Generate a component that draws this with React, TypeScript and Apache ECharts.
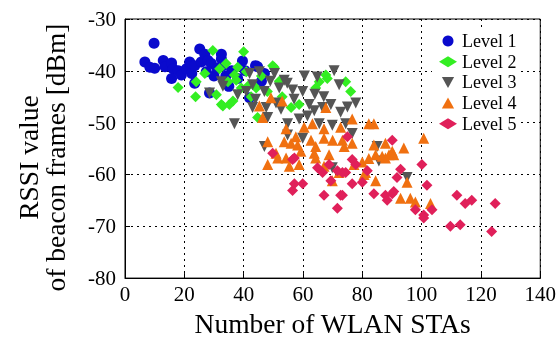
import React, { useEffect, useRef } from "react";
import * as echarts from "echarts";

const xTicks = [0, 20, 40, 60, 80, 100, 120, 140];
const yTicks = [-80, -70, -60, -50, -40, -30];
const levelNames = ["Level 1", "Level 2", "Level 3", "Level 4", "Level 5"];

const level1: number[][] = [
  [6.7, -38.3], [8.4, -39.3], [10, -39.5], [9.8, -34.7], [12.9, -38], [13.5, -39.2],
  [15.7, -38.5], [16.2, -39.6], [15.7, -41.5], [18, -40], [19, -40.8], [20.7, -39.6],
  [21.8, -38.3], [22.5, -40.5], [23.5, -39], [23.5, -42.4], [25.2, -35.8], [25.7, -38.3],
  [26.9, -36.8], [27.4, -40.2], [28, -38], [28.5, -44.3], [29.1, -38.6], [30, -41],
  [31, -39.5], [32.5, -37.7], [33, -39], [32.5, -36.8], [34, -41], [35, -43], [36, -40],
  [38, -41.5], [39.6, -38.1], [40.5, -40], [42, -45.2], [44, -39], [44.7, -39.2],
  [46, -42], [47, -40.5],
];

const level2: number[][] = [
  [17.9, -43.2], [23.8, -45], [24, -42.1], [26.9, -40.5], [29.6, -36.1], [30.8, -44.6],
  [31.9, -39.6], [32.5, -46.5], [33, -46.8], [34.1, -38.6], [34.7, -42.1], [35.2, -46.5],
  [36.4, -45.8], [36.9, -40.8], [37.5, -41.8], [38, -39.3], [39.2, -43.3], [40, -36.3],
  [40.9, -40.2], [41.4, -43], [42.5, -45], [44.2, -43.3], [44.7, -49], [46, -41],
  [48, -44], [49.8, -39], [50.3, -39.3], [52, -42], [53, -45], [56, -47.1], [58.7, -46.5],
  [64.3, -43.3], [65.5, -42.1], [67.7, -40.8], [68.2, -41.5], [74.4, -42.1], [76.1, -44],
];

const level3: number[][] = [
  [28.5, -44.3], [32.5, -42.1], [33, -43], [36.9, -50.2], [38, -44.6], [40.9, -44],
  [42, -40.5], [43, -42.7], [43, -47.1], [44, -45.5], [45.3, -40.2], [47, -44], [47, -54.6],
  [47.6, -47.1], [48.1, -49], [49, -42], [50.4, -40.5], [50.9, -46.2], [52, -43.3],
  [52.6, -47.4], [53.7, -41.8], [54.7, -42.4], [54.8, -50.2], [54.8, -52.4], [56.5, -43.7],
  [57, -45.5], [58.7, -49.3], [59.9, -44], [59.9, -53], [60.5, -41], [61.5, -48.7],
  [62.1, -46.5], [63.8, -47.7], [64, -44.5], [64.8, -41.2], [65.5, -50.2], [66.6, -47.1],
  [67, -45], [69.4, -46.5], [69.9, -50.5], [69.9, -58.7], [70.5, -40], [72.2, -42.7],
  [72.7, -48], [74.4, -50.2], [75, -47], [76.6, -52.1], [77.8, -46.2], [85, -54.6],
  [85.6, -57.4], [95.1, -60.6],
];

const level4: number[][] = [
  [45.3, -46.8], [46.4, -49], [49.2, -45.2], [53, -45.8], [48.1, -53.7], [48.1, -58.1],
  [50.9, -55.9], [51.5, -56.8], [53.7, -53.7], [54.3, -51.2], [54.3, -56.8], [55.4, -58.4],
  [56, -54], [57.6, -52.7], [58.2, -54.3], [58.7, -58.1], [59.3, -55.5], [60.4, -50.9],
  [62.7, -53.4], [63.2, -50.2], [63.8, -55.9], [64.3, -54.6], [64.3, -56.8], [67.1, -51.2],
  [67.1, -53], [67.1, -58.4], [67.7, -47.1], [68.8, -56.2], [69.9, -61.2], [70, -53.4],
  [72.2, -59.6], [72.7, -50.9], [73.3, -53.4], [73.9, -54.6], [76.6, -49.3], [76.6, -54],
  [77.2, -58.1], [80, -57.6], [80.6, -60], [81.1, -59.6], [82.2, -50.2], [82.2, -56.9],
  [83.9, -50.2], [83.9, -54.3], [84.5, -56.2], [84.5, -61.2], [86.7, -56.5], [87.8, -54],
  [87.8, -56.8], [89, -56.2], [90.1, -55.5], [90.6, -56.2], [94, -54.9], [92.9, -64.6],
  [95.1, -61.5], [96.2, -64.6], [97.9, -65.3], [100.7, -53], [103, -65.6],
];

const level5: number[][] = [
  [49.8, -55.9], [56.5, -57.1], [57.1, -56.8], [56.5, -63.1], [57.1, -61.8], [59.9, -61.8],
  [64.9, -58.7], [66.6, -59.6], [67.1, -64], [68.8, -58.1], [69.4, -61.2], [71.6, -59.3],
  [71.6, -66.5], [72.7, -64], [73.3, -59.6], [73.3, -64], [74.4, -59.6], [75, -52.7],
  [76.6, -57.1], [76.6, -61.8], [77.8, -58.1], [80, -61.5], [81.7, -59.3], [83.9, -63.7],
  [87.8, -64], [88.4, -65], [90.1, -53.4], [90.1, -63.7], [90.6, -63.3], [91.7, -60.6],
  [92.9, -59], [97.9, -66.8], [100.1, -58.1], [100.7, -67.8], [100.7, -68.4], [101.8, -62.1],
  [103.5, -66.8], [108, -49.6], [109.7, -70], [111.9, -64], [113, -69.7], [114.7, -65.6],
  [116.9, -65], [123.6, -71], [124.8, -65.6],
];

const serif = "'Liberation Serif', 'Times New Roman', serif";
const downTriangle = "path://M0,0L10,0L5,9Z";
const upTriangle = "path://M5,0L10,9L0,9Z";

export default function App() {
  const ref = useRef<HTMLDivElement>(null);
  useEffect(() => {
    if (!ref.current) return;
    const chart = echarts.init(ref.current, undefined, { renderer: "svg" });
    const mk = (name: string, data: number[][], symbol: string, size: number, color: string) => ({
      name,
      type: "scatter",
      data,
      symbol,
      symbolSize: size,
      itemStyle: { color, opacity: 1 },
      emphasis: { disabled: true },
    });
    chart.setOption({
      animation: false,
      textStyle: { fontFamily: serif },
      grid: {
        left: 125,
        right: 17,
        top: 19,
        bottom: 57,
        show: true,
        borderColor: "#000",
        borderWidth: 1,
        backgroundColor: "transparent",
      },
      legend: {
        orient: "vertical",
        left: 432,
        top: 28,
        padding: [4, 4, 4, 7],
        backgroundColor: "#fff",
        itemWidth: 18,
        itemHeight: 11,
        itemGap: 2.7,
        data: levelNames,
        textStyle: { fontFamily: serif, fontSize: 18, lineHeight: 18, color: "#000" },
      },
      xAxis: {
        type: "value",
        min: xTicks[0],
        max: xTicks[xTicks.length - 1],
        interval: 20,
        name: "Number of WLAN STAs",
        nameLocation: "middle",
        nameGap: 28,
        nameTextStyle: { fontFamily: serif, fontSize: 27.5, color: "#000" },
        axisLine: { show: true, lineStyle: { color: "#000" } },
        axisTick: { show: true, inside: true, length: 5, lineStyle: { color: "#000" } },
        axisLabel: { fontFamily: serif, fontSize: 21, color: "#000", margin: 5 },
        splitLine: { show: true, lineStyle: { color: "#000", type: [2, 4], width: 1 } },
      },
      yAxis: {
        type: "value",
        min: yTicks[0],
        max: yTicks[yTicks.length - 1],
        interval: 10,
        name: "RSSI value\nof beacon frames [dBm]",
        nameLocation: "middle",
        nameRotate: 90,
        nameGap: 56,
        nameTextStyle: {
          fontFamily: serif,
          fontSize: 27.5,
          color: "#000",
          lineHeight: 27,
          padding: [0, 18, 0, 0],
        },
        axisLine: { show: true, lineStyle: { color: "#000" } },
        axisTick: { show: true, inside: true, length: 5, lineStyle: { color: "#000" } },
        axisLabel: { fontFamily: serif, fontSize: 21, color: "#000", margin: 9 },
        splitLine: { show: true, lineStyle: { color: "#000", type: [2, 4], width: 1 } },
      },
      series: [
        mk(levelNames[0], level1, "circle", 11, "#0a0acd"),
        mk(levelNames[1], level2, "diamond", 11, "#33ee22"),
        mk(levelNames[2], level3, downTriangle, 11, "#555555"),
        mk(levelNames[3], level4, upTriangle, 11, "#f07010"),
        mk(levelNames[4], level5, "diamond", 11, "#e0205a"),
      ],
    });
    return () => chart.dispose();
  }, []);
  return <div ref={ref} style={{ position: "fixed", left: 0, top: 0, width: 559, height: 342 }} />;
}
